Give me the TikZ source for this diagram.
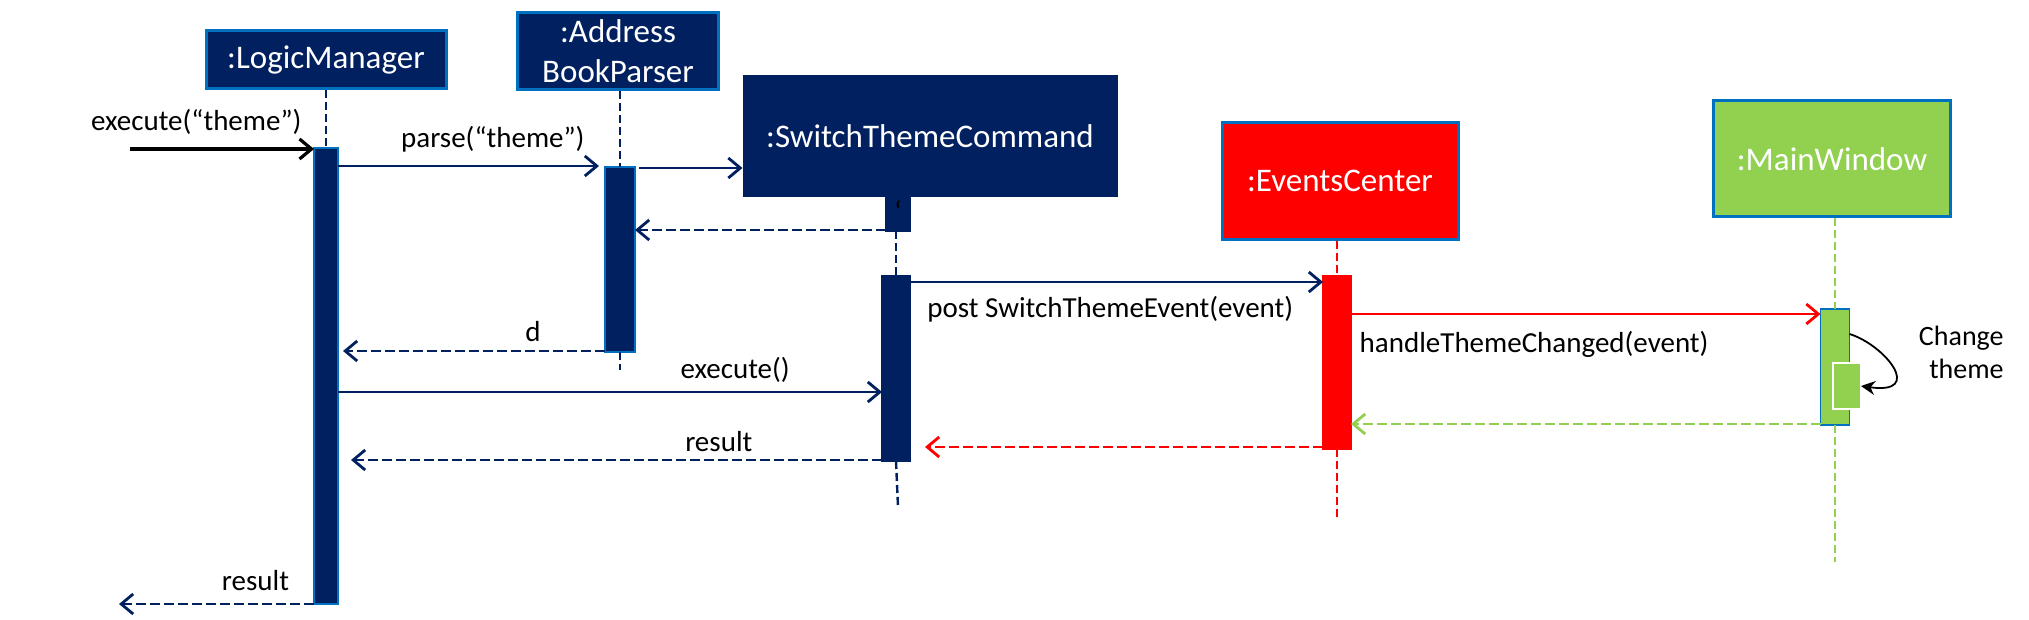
\documentclass[tikz,border=0pt]{standalone}
\usepackage{fontspec}
\setmainfont{Carlito}
\usetikzlibrary{arrows.meta}

\definecolor{navy}{HTML}{002060}
\definecolor{objblue}{HTML}{0070C0}
\definecolor{evred}{HTML}{FF0000}
\definecolor{wingreen}{HTML}{92D050}

\tikzstyle{objbox}=[line width=1.5pt,inner sep=0pt,text=white,align=center,font=\fontsize{16.5}{20}\selectfont]
\tikzstyle{actbar}=[inner sep=0pt,outer sep=0pt,line width=0.6pt]
\tikzstyle{lifeline}=[line width=1.2pt,dash pattern=on 4pt off 2pt]
\tikzstyle{msg}=[line width=1.4pt,-{Straight Barb[length=6pt,width=10pt]}]
\tikzstyle{reply}=[msg,dash pattern=on 5pt off 2pt]
\tikzstyle{msglabel}=[font=\fontsize{14.5}{17}\selectfont,text=black,anchor=base,inner sep=0pt]
\tikzstyle{selfcall}=[line width=0.9pt,-{Stealth[length=7pt,width=7pt]}]

\begin{document}
\begin{tikzpicture}[x=0.5pt,y=-0.5pt]
  \useasboundingbox (0,0) rectangle (2029,620);

  %% objects
  \foreach \nodename/\x/\y/\w/\h/\colour/\rim/\boxtext in {
    lm/326/60/240/58/navy/objblue/{:LogicManager},
    ab/618/51/201/77/navy/objblue/{:Address\\BookParser},
    stc/930/136/372/119/navy/navy/{:SwitchThemeCommand},
    ec/1340/181/236/117/evred/objblue/{:EventsCenter},
    mw/1832/159/237/116/wingreen/objblue/{:MainWindow}}
  {
    \node[objbox,fill=\colour,draw=\rim,minimum width=\w*0.5pt,minimum height=\h*0.5pt] (\nodename) at (\x,\y) {\boxtext};
  }

  %% activation bars
  \foreach \nodename/\x/\top/\bot/\w/\colour/\rim in {
    lmbar/326/148/604/24/navy/objblue,
    abbar/620/167/352/30/navy/objblue,
    stcsmall/898/196/231/24/navy/navy,
    stcbar/896/276/461/28/navy/navy,
    ecbar/1337/276/449/28/evred/evred,
    mwbar/1835/309/425/29/wingreen/objblue}
  {
    \node[actbar,fill=\colour,draw=\rim,minimum width=\w*0.5pt,minimum height=(\bot-\top)*0.5pt] (\nodename) at (\x,{(\top+\bot)/2}) {};
  }
  \node[actbar,fill=wingreen,draw=white,minimum width=14pt,minimum height=23pt] (mwinner) at (1847,386) {};
  \node[font=\fontsize{14.5}{17}\selectfont,inner sep=0pt,anchor=north] (tick) at (898,200) {`};

  %% lifelines
  \coordinate (abend) at (620,370);
  \coordinate (stcend) at (898,507);
  \coordinate (ecend) at (1337,517);
  \coordinate (mwend) at (1835,562);
  \foreach \boxname/\barname/\colour in {lm/lmbar/navy, ab/abbar/navy, stcsmall/stcbar/navy, ec/ecbar/evred, mw/mwbar/wingreen}
  {
    \draw[lifeline,\colour] (\barname.north |- \boxname.south) -- (\barname.north);
  }
  \foreach \barname/\endname/\colour in {abbar/abend/navy, stcbar/stcend/navy, ecbar/ecend/evred, mwbar/mwend/wingreen}
  {
    \draw[lifeline,\colour] (\barname.south) -- (\endname);
  }

  %% messages
  \coordinate (callin) at (130,149);
  \coordinate (resultout) at (119,604);
  \draw[msg,black,line width=1.6pt] (callin) -- (lmbar.west |- callin)
    node[msglabel,pos=0.36,yshift=9pt] {execute(“theme”)};
  \draw[msg,navy,shorten >=3pt] (lmbar.east |- 0,166) -- (abbar.west |- 0,166)
    node[msglabel,pos=0.58,yshift=9pt] {parse(“theme”)};
  \draw[msg,navy,shorten <=2pt] (abbar.east |- 0,168) -- (stc.west |- 0,168);
  \draw[reply,navy] (stcsmall.west |- 0,230) -- (abbar.east |- 0,230);
  \draw[reply,navy,shorten >=2.5pt] (abbar.west |- 0,351) -- (lmbar.east |- 0,351)
    node[msglabel,pos=0.27,yshift=4.5pt] {d};
  \draw[msg,navy] (lmbar.east |- 0,392) -- (stcbar.west |- 0,392)
    node[msglabel,pos=0.73,yshift=7pt] {execute()};
  \draw[reply,navy,shorten >=6.5pt] (stcbar.west |- 0,460) -- (lmbar.east |- 0,460)
    node[msglabel,pos=0.30,yshift=4.5pt] {result};
  \draw[msg,navy] (stcbar.east |- 0,282) -- (ecbar.west |- 0,282)
    node[msglabel,pos=0.485,yshift=-17.5pt] {post SwitchThemeEvent(event)};
  \draw[msg,evred] (ecbar.east |- 0,314) -- (mwbar.west |- 0,314)
    node[msglabel,pos=0.39,yshift=-19pt] {handleThemeChanged(event)};
  \draw[reply,wingreen] (mwbar.west |- 0,424) -- (ecbar.east |- 0,424);
  \draw[reply,evred,shorten >=7.5pt] (ecbar.west |- 0,447) -- (stcbar.east |- 0,447);
  \draw[reply,navy] (lmbar.west |- 0,604) -- (resultout)
    node[msglabel,pos=0.30,yshift=7pt] {result};

  %% self call
  \draw[selfcall] (mwbar.east |- 0,334) .. controls (1885,345) and (1925,395) .. (mwinner.east |- 0,386);
  \node[anchor=east,align=right,inner sep=0pt,font=\fontsize{14}{16.5}\selectfont] (changetheme) at (2004,352) {Change\\theme};
\end{tikzpicture}
\end{document}
